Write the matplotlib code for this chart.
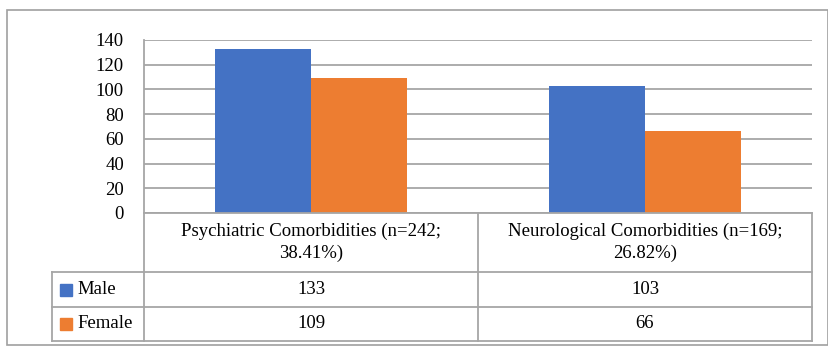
import matplotlib.pyplot as plt
from matplotlib.patches import Rectangle
from matplotlib.lines import Line2D
import numpy as np

categories = ['Psychiatric Comorbidities (n=242;\n38.41%)',
              'Neurological Comorbidities (n=169;\n26.82%)']
series = ['Male', 'Female']
male = [133, 103]
female = [109, 66]
colors = ['#4472C4', '#ED7D31']
yticks = [0, 20, 40, 60, 80, 100, 120, 140]

W, H = 829, 348
fig = plt.figure(figsize=(W / 100, H / 100), dpi=100)
plt.rcParams['font.family'] = ['Liberation Serif', 'DejaVu Serif']
fs = 13.5


def fx(px):
    return px / W


def fy(py):
    return 1 - py / H


grid_c = '#A6A6A6'
left, right, top, bottom = 144, 812, 40, 213
row1, row2, row3 = 272, 307, 341
legx = 52

ax = fig.add_axes([fx(left), fy(bottom), fx(right) - fx(left), fy(top) - fy(bottom)])
x = np.arange(len(categories))
w = 0.286
ax.bar(x - w / 2, male, w, color=colors[0], zorder=3)
ax.bar(x + w / 2, female, w, color=colors[1], zorder=3)
ax.set_xlim(-0.5, len(categories) - 0.5)
ax.set_ylim(0, 140)
ax.set_yticks(yticks)
ax.set_yticklabels([str(t) for t in yticks], fontsize=fs)
ax.tick_params(axis='y', length=0, pad=14.4)
ax.set_xticks([])
for s in ax.spines.values():
    s.set_visible(False)
ax.grid(axis='y', color=grid_c, lw=1.3, zorder=0)

# data table below the plot
def hline(y, x0, x1):
    fig.add_artist(Line2D([fx(x0), fx(x1)], [fy(y), fy(y)], color=grid_c, lw=1.3))


def vline(xp, y0, y1):
    fig.add_artist(Line2D([fx(xp), fx(xp)], [fy(y0), fy(y1)], color=grid_c, lw=1.3))


hline(bottom, left, right)
for yy in (row1, row2, row3):
    hline(yy, legx, right)
vline(left, top, row3)
vline(legx, row1, row3)
colw = (right - left) / len(categories)
for i in range(1, len(categories) + 1):
    vline(left + colw * i, bottom, row3)

for i, cat in enumerate(categories):
    cx = left + colw * (i + 0.5)
    fig.text(fx(cx), fy((bottom + row1) / 2), cat, ha='center', va='center',
             fontsize=fs, linespacing=1.4)
    for r, vals in enumerate([male, female]):
        ry = [(row1 + row2) / 2, (row2 + row3) / 2][r]
        fig.text(fx(cx), fy(ry), str(vals[i]), ha='center', va='center', fontsize=fs)

for r, name in enumerate(series):
    ry = [(row1 + row2) / 2, (row2 + row3) / 2][r]
    fig.add_artist(Rectangle((fx(60), fy(ry + 6)), fx(12), fy(0) - fy(12),
                             color=colors[r], transform=fig.transFigure))
    fig.text(fx(77), fy(ry), name, ha='left', va='center', fontsize=fs)

# outer chart border
fig.add_artist(Rectangle((fx(7), fy(345)), fx(828) - fx(7), fy(10) - fy(345),
                         fill=False, edgecolor='#A0A0A0', lw=1.2,
                         transform=fig.transFigure))

fig.savefig('out.png', dpi=100)
